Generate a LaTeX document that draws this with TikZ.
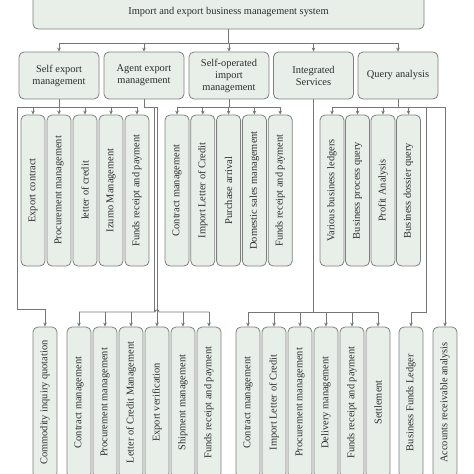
\documentclass[tikz,border=0pt]{standalone}
\usepackage{fontspec}
\setmainfont{Liberation Serif}
\usetikzlibrary{arrows.meta}
\definecolor{boxfill}{RGB}{232,239,233}
\definecolor{boxline}{RGB}{125,128,126}
\definecolor{wirecol}{RGB}{118,118,118}
\definecolor{txt}{RGB}{45,45,45}
\begin{document}
\begin{tikzpicture}[x=1pt,y=-1pt,
  box/.style={draw=boxline, fill=boxfill, rounded corners=5pt, line width=0.8pt, text=txt,
    font=\fontsize{10.4}{12}\selectfont, align=center, inner sep=0pt},
  topbox/.style={box, minimum width=391pt, minimum height=34pt},
  midbox/.style={box, minimum width=80pt, minimum height=47pt},
  leaf/.style={box, rotate=90, minimum width=151pt, minimum height=24pt},
  wire/.style={draw=wirecol, line width=0.8pt},
  arr/.style={wire, -{Stealth[length=4pt,width=3.6pt]}}]
\useasboundingbox (0,0) rectangle (474,474);
\clip (0,0) rectangle (474,474);

% top
\node[topbox] (top) at (228.5,12) {Import and export business management system};

% second level
\node[midbox] (se) at (59,75.5) {Self export\\management};
\node[midbox] (ag) at (144,75.5) {Agent export\\management};
\node[midbox] (so) at (229,75.5) {Self-operated\\import\\management};
\node[midbox] (is) at (313.5,75.5) {Integrated\\Services};
\node[midbox] (qa) at (398,75.5) {Query analysis};

% third level (rotated: visual top is .east)
\node[leaf] (a1) at (33,190.5) {Export contract};
\node[leaf] (a2) at (59,190.5) {Procurement management};
\node[leaf] (a3) at (85,190.5) {letter of credit};
\node[leaf] (a4) at (111,190.5) {Izumo Management};
\node[leaf] (a5) at (137,190.5) {Funds receipt and payment};

\node[leaf] (c1) at (177,190.5) {Contract management};
\node[leaf] (c2) at (202.8,190.5) {Import Letter of Credit};
\node[leaf] (c3) at (228.6,190.5) {Purchase arrival};
\node[leaf] (c4) at (254.4,190.5) {Domestic sales management};
\node[leaf] (c5) at (280.2,190.5) {Funds receipt and payment};

\node[leaf] (e1) at (332,190.5) {Various business ledgers};
\node[leaf] (e2) at (357.5,190.5) {Business process query};
\node[leaf] (e3) at (383,190.5) {Profit Analysis};
\node[leaf] (e4) at (408.5,190.5) {Business dossier query};

% bottom level
\node[leaf] (com) at (45,402.5) {Commodity inquiry quotation};
\node[leaf] (b1) at (79,402.5) {Contract management};
\node[leaf] (b2) at (105,402.5) {Procurement management};
\node[leaf] (b3) at (131,402.5) {Letter of Credit Management};
\node[leaf] (b4) at (157,402.5) {Export verification};
\node[leaf] (b5) at (183,402.5) {Shipment management};
\node[leaf] (b6) at (209,402.5) {Funds receipt and payment};

\node[leaf] (d1) at (248,402.5) {Contract management};
\node[leaf] (d2) at (274,402.5) {Import Letter of Credit};
\node[leaf] (d3) at (300,402.5) {Procurement management};
\node[leaf] (d4) at (326,402.5) {Delivery management};
\node[leaf] (d5) at (352,402.5) {Funds receipt and payment};
\node[leaf] (d6) at (378,402.5) {Settlement};

\node[leaf] (bfl) at (411,402.5) {Business Funds Ledger};
\node[leaf] (ara) at (445,402.5) {Accounts receivable analysis};

% helper coordinates
\coordinate (seL) at (17,309);
\coordinate (agA) at (154,312);
\coordinate (isB) at (313.5,312);
\coordinate (qaR) at (426,312);

% connectors: top
\foreach \c in {se,ag,so,is,qa}
  \draw[arr] (top.south) -- ++(0,14) -| (\c.north);

% self export
\foreach \c in {a1,a2,a3,a4,a5}
  \draw[arr] (se.south) -- ++(0,8) -| (\c.east);
\draw[arr] (se.south) -- ++(0,8) -| (seL) -| (com.east);

% agent export
\draw[wire] (ag.south) -- ++(0,8) -| (agA);
\draw[arr] (ag.south) -- ++(0,8) -| (b4.east);
\draw[wire] (b1.east |- agA) -- (155,312) arc[start angle=180,end angle=360,radius=2] -- (b6.east |- agA);
\foreach \c in {b1,b2,b3,b5,b6}
  \draw[arr] (\c.east |- agA) -- (\c.east);

% self-operated import
\foreach \c in {c1,c2,c3,c4,c5}
  \draw[arr] (so.south) -- ++(0,8) -| (\c.east);

% integrated services
\foreach \c in {d1,d2,d3,d4,d5,d6}
  \draw[arr] (is.south) -- (isB) -| (\c.east);

% query analysis
\foreach \c in {e1,e2,e3,e4}
  \draw[arr] (qa.south) -- ++(0,8) -| (\c.east);
\draw[arr] (qa.south) -- ++(0,8) -| (qaR) -| (bfl.east);
\draw[arr] (qa.south) -- ++(0,8) -| (ara.east);
\end{tikzpicture}
\end{document}
